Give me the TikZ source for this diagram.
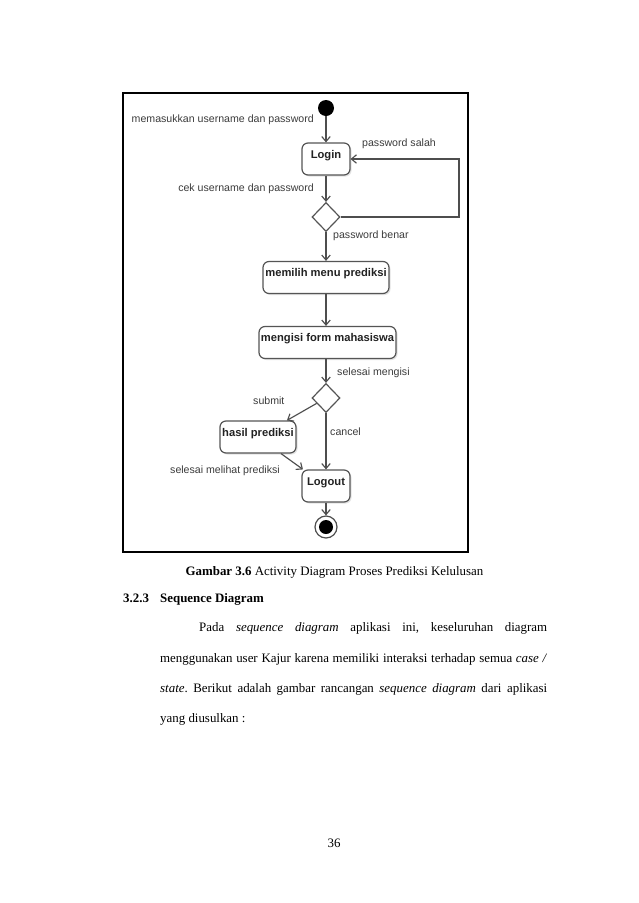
\documentclass[tikz,border=0pt]{standalone}
\usepackage{fontspec}
\setmainfont{Liberation Serif}
\newfontfamily\diagfont{Liberation Sans}
\usetikzlibrary{arrows.meta,shapes.geometric,shadows}
\definecolor{linec}{HTML}{4E4E4E}
\definecolor{boxc}{HTML}{555555}
\definecolor{boxtext}{HTML}{222222}
\definecolor{labc}{HTML}{3C3C3C}
\frenchspacing
\begin{document}
\begin{tikzpicture}[x=1pt,y=-1pt,
  arr/.style={draw=linec, line width=1.15pt, -{Straight Barb[length=5pt,width=8.5pt]}},
  act/.style={draw=boxc, line width=1.2pt, rounded corners=6pt, fill=white,
    drop shadow={shadow xshift=1.5pt,shadow yshift=-1.5pt,fill=black!22},
    font=\diagfont\bfseries\fontsize{11.2}{13}\selectfont, text=boxtext,
    inner sep=0pt, text height=8pt, text depth=10pt, minimum height=32pt},
  dec/.style={diamond, draw=boxc, line width=1.2pt, fill=white, inner sep=0pt,
    minimum width=28pt, minimum height=29pt},
  labl/.style={font=\diagfont\fontsize{10.6}{12}\selectfont, text=labc, inner sep=0pt},
  body/.style={font=\fontsize{12.9}{15}\selectfont, inner sep=0pt}]
\fill[white] (0,0) rectangle (638,903);
\useasboundingbox (0,0) rectangle (638,903);
% frame
\draw[line width=1.3pt] (123,93) rectangle (468,552);
% nodes
\node[circle, fill=black, minimum size=16pt, inner sep=0pt] (start) at (326,108) {};
\node[act, minimum width=48pt] (login) at (326,159) {Login};
\node[dec] (dec1) at (326,217) {};
\node[act, minimum width=126pt] (menu) at (326,277.5) {memilih menu prediksi};
\node[act, minimum width=137pt] (form) at (327.5,342.5) {mengisi form mahasiswa};
\node[dec] (dec2) at (326,398) {};
\node[act, minimum width=76pt] (hasil) at (258,437) {hasil prediksi};
\node[act, minimum width=48pt] (logout) at (326,486) {Logout};
\node[circle, draw=linec, line width=1.2pt, fill=white, minimum size=22pt, inner sep=0pt] (end) at (326,527) {};
\node[circle, fill=black, minimum size=14pt, inner sep=0pt] (endin) at (end) {};
\coordinate (loopc) at (459,159);
% connectors
\draw[arr] (start) -- (login);
\draw[arr] (login) -- (dec1);
\draw[arr] (dec1.east) -| (loopc) -- (login.east);
\draw[arr] (dec1) -- (menu);
\draw[arr] (menu.south) -- (menu.south |- form.north);
\draw[arr] (form.south -| dec2) -- (dec2);
\draw[arr] (dec2) -- (hasil);
\draw[arr] (dec2) -- (logout);
\draw[arr] (hasil) -- (logout);
\draw[arr] (logout) -- (end);
% labels
\node[labl, anchor=mid east] (l1) at (314,120) {memasukkan username dan password};
\node[labl, anchor=mid west] (l2) at (362,144) {password salah};
\node[labl, anchor=mid east] (l3) at (314,189) {cek username dan password};
\node[labl, anchor=mid west] (l4) at (333,236) {password benar};
\node[labl, anchor=mid west] (l5) at (337,373) {selesai mengisi};
\node[labl, anchor=mid west] (l6) at (253,402) {submit};
\node[labl, anchor=mid west] (l7) at (330,433) {cancel};
\node[labl, anchor=mid west] (l8) at (170,471) {selesai melihat prediksi};
% caption and text
\node[body] (cap) at (334.5,572) {\textbf{Gambar 3.6} Activity Diagram Proses Prediksi Kelulusan};
\node[body, anchor=mid west] (secnum) at (123,600) {\textbf{3.2.3}};
\node[body, anchor=mid west] (sectitle) at (160,600) {\textbf{Sequence Diagram}};
\node[body, anchor=mid west] (p1) at (199,629) {\makebox[348pt][s]{Pada \textit{sequence} \textit{diagram} aplikasi ini, keseluruhan diagram}};
\node[body, anchor=mid west] (p2) at (160,660) {\makebox[387pt][s]{menggunakan user Kajur karena memiliki interaksi terhadap semua \textit{case /}}};
\node[body, anchor=mid west] (p3) at (160,690) {\makebox[387pt][s]{\textit{state}. Berikut adalah gambar rancangan \textit{sequence diagram} dari aplikasi}};
\node[body, anchor=mid west] (p4) at (160,720) {yang diusulkan :};
\node[body] (pnum) at (334,843) {36};
\end{tikzpicture}
\end{document}
